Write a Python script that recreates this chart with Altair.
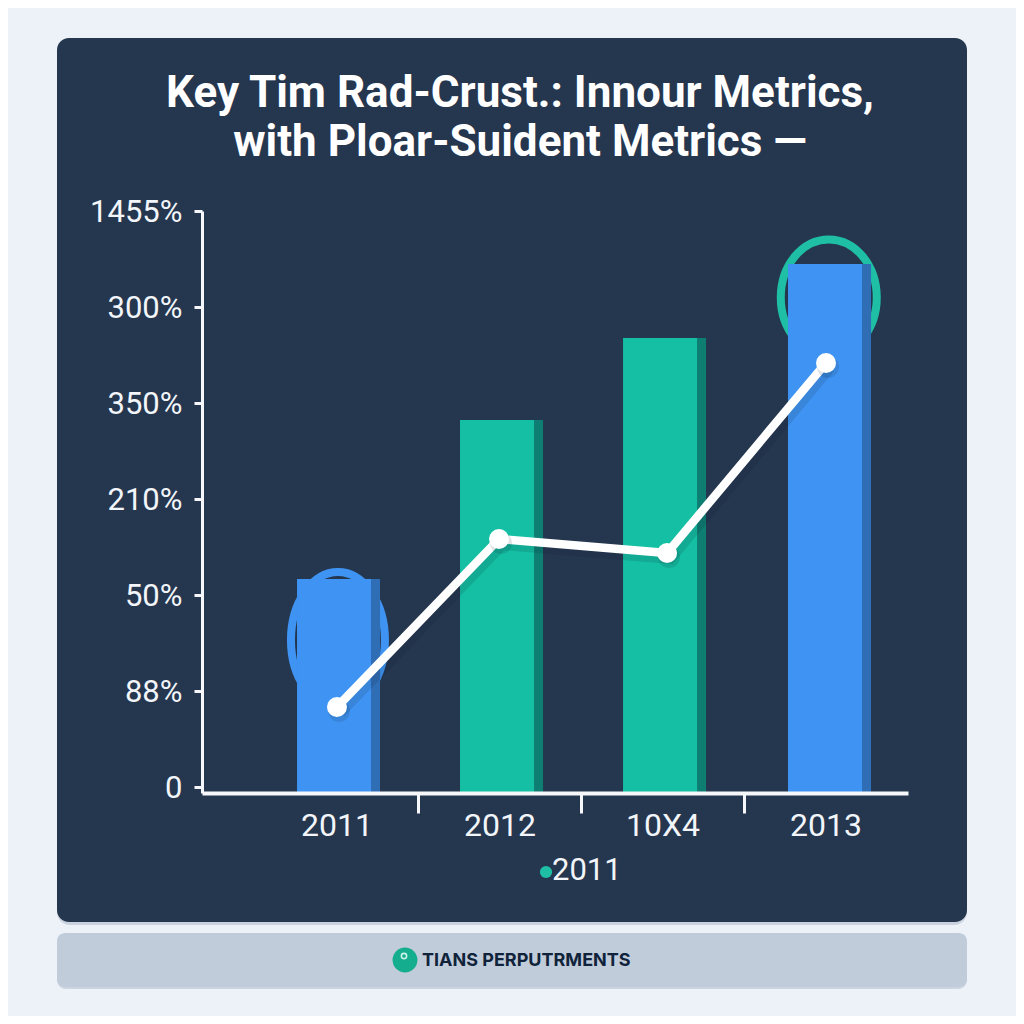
import altair as alt
import pandas as pd

# --- Chart content ---
title_lines = ["Key Tim Rad-Crust.: Innour Metrics,", "with Ploar-Suident Metrics \u2014"]
categories = ["2011", "2012", "10X4", "2013"]
y_tick_labels = ["0", "88%", "50%", "210%", "350%", "300%", "1455%"]
bar_positions = [-0.015, 0.985, 1.985, 2.997]
bar_values = [2.167, 3.823, 4.677, 5.448]
bar_groups = ["blue", "teal", "teal", "blue"]
line_positions = [0.003, 0.997, 2.028, 3.003]
line_values = [0.833, 2.583, 2.4375, 4.417]
highlight_positions = [0.009, 3.02]
highlight_values = [1.53, 5.10]
legend_label = "2011"
footer_label = "TIANS PERPUTRMENTS"

FONT = "Roboto"
W, H = 706, 582
PAD_L, PAD_T = 194, 203
px = lambda v: v - 8 - PAD_L     # page x -> view x
py = lambda v: v - 8 - PAD_T     # page y -> view y

bars = pd.DataFrame({"pos": bar_positions, "value": bar_values, "group": bar_groups})
line = pd.DataFrame({"pos": line_positions, "value": line_values})

x_scale = alt.Scale(domain=[-0.825, 3.506], nice=False, zero=False, padding=0)
y_scale = alt.Scale(domain=[-0.0625, 6], nice=False, zero=False, padding=0)

x_labels_js = "[" + ",".join(f"'{c}'" for c in categories) + "]"
y_labels_js = "[" + ",".join(f"'{c}'" for c in y_tick_labels) + "]"

x_enc = alt.X(
    "pos:Q", scale=x_scale, title=None,
    axis=alt.Axis(
        values=[0, 0.5, 1, 1.5, 2, 2.5, 3], grid=False, zindex=1,
        labelExpr=f"datum.value % 1 === 0 ? {x_labels_js}[datum.value] : ''",
        labelOverlap=False, labelFlush=False, labelBound=False,
        labelFont=FONT, labelFontSize=32, labelColor="#f2f5f9", labelPadding=-3,
        tickSize=20, tickWidth=3, tickColor="#f5f7fa",
        domainColor="#f5f7fa", domainWidth=4,
    ),
)
x_enc_axis = x_enc.to_dict()
x_enc_axis["axis"]["tickOpacity"] = {"condition": {"test": "datum.value % 1 === 0", "value": 0}, "value": 1}

y_enc = alt.Y(
    "value:Q", scale=y_scale, title=None,
    axis=alt.Axis(
        values=list(range(len(y_tick_labels))), grid=False, zindex=1,
        labelExpr=f"{y_labels_js}[datum.value]",
        labelOverlap=False, labelFlush=False, labelBound=False,
        labelFont=FONT, labelFontSize=31, labelColor="#f2f5f9", labelPadding=12,
        labelOffset=1.5,
        tickSize=8, tickWidth=3, tickColor="#f5f7fa",
        domainColor="#f5f7fa", domainWidth=3,
    ),
)


def deco_rect(x0, x1, y0, y1, color, radius, opacity=1.0):
    return alt.Chart(alt.Data(values=[{}])).mark_rect(
        color=color, cornerRadius=radius, opacity=opacity
    ).encode(
        x=alt.value(px(x0)), x2=alt.value(px(x1)),
        y=alt.value(py(y0)), y2=alt.value(py(y1)),
    )


def ellipse(rx, ry):
    return (f"M {-rx} 0 A {rx} {ry} 0 1 1 {rx} 0 A {rx} {ry} 0 1 1 {-rx} 0 Z")


color_main = alt.Color("group:N", legend=None,
                       scale=alt.Scale(domain=["blue", "teal"], range=["#3f94f3", "#15bfa3"]))
color_side = alt.Color("group:N", legend=None,
                       scale=alt.Scale(domain=["blue", "teal"], range=["#2f6db5", "#0e7d72"]))

card_shadow = deco_rect(57, 967, 40, 925, "#8a99ad", 13, 0.35)
card = deco_rect(57, 967, 38, 922, "#25364f", 12)
foot_shadow = deco_rect(57, 967, 936, 989, "#9aa7b8", 9, 0.4)
foot = deco_rect(57, 967, 933, 987, "#c0ccda", 8)

ring_blue = alt.Chart(pd.DataFrame({"pos": highlight_positions[:1], "value": highlight_values[:1]})).mark_point(
    shape=ellipse(0.94, 1.36), size=10000, filled=False, stroke="#3f94f3", strokeWidth=8, opacity=1
).encode(x=alt.X("pos:Q", scale=x_scale), y=alt.Y("value:Q", scale=y_scale))
ring_teal = alt.Chart(pd.DataFrame({"pos": highlight_positions[1:], "value": highlight_values[1:]})).mark_point(
    shape=ellipse(0.96, 1.16), size=10000, filled=False, stroke="#1fbfa5", strokeWidth=8, opacity=1
).encode(x=alt.X("pos:Q", scale=x_scale), y=alt.Y("value:Q", scale=y_scale))

bars_side = alt.Chart(bars).mark_bar(size=83, orient="vertical", xOffset=4.5).encode(
    x=alt.X("pos:Q", scale=x_scale), y=alt.Y("value:Q", scale=y_scale, stack=None),
    y2=alt.value(H), color=color_side,
)
bars_main = alt.Chart(bars).mark_bar(size=74, orient="vertical").encode(
    x=alt.X("pos:Q", scale=x_scale), y=alt.Y("value:Q", scale=y_scale, stack=None),
    y2=alt.value(H), color=color_main,
)

line_shadow = alt.Chart(line).mark_line(
    color="#0b1626", opacity=0.12, strokeWidth=12, xOffset=3, yOffset=5
).encode(x=alt.X("pos:Q", scale=x_scale), y=alt.Y("value:Q", scale=y_scale))
line_main = alt.Chart(line).mark_line(color="#ffffff", strokeWidth=8.5).encode(
    x=alt.X("pos:Q", scale=x_scale), y=alt.Y("value:Q", scale=y_scale))
pts_shadow = alt.Chart(line).mark_point(
    filled=True, color="#0b1626", opacity=0.12, size=480, xOffset=2, yOffset=4
).encode(x=alt.X("pos:Q", scale=x_scale), y=alt.Y("value:Q", scale=y_scale))
pts = alt.Chart(line).mark_point(filled=True, color="#ffffff", size=400, opacity=1).encode(
    x=alt.X("pos:Q", scale=x_scale), y=alt.Y("value:Q", scale=y_scale))

# axis carrier layer
axis_layer = alt.Chart(line).mark_point(opacity=0).encode(x=x_enc_axis, y=y_enc)

one = alt.Data(values=[{}])
legend_dot = alt.Chart(one).mark_point(filled=True, color="#1fbfa5", size=150, opacity=1).encode(
    x=alt.value(px(546)), y=alt.value(py(872)))
legend_text = alt.Chart(pd.DataFrame({"t": [legend_label]})).mark_text(
    font=FONT, fontSize=31, color="#f2f5f9", align="left", baseline="middle"
).encode(x=alt.value(px(552)), y=alt.value(py(871)), text="t:N")

foot_badge = alt.Chart(one).mark_point(filled=True, color="#14ad8e", size=620, opacity=1).encode(
    x=alt.value(px(405)), y=alt.value(py(960)))
foot_dot = alt.Chart(one).mark_point(
    filled=False, stroke="#c9f2e6", strokeWidth=1.6, size=28, opacity=1
).encode(x=alt.value(px(404)), y=alt.value(py(956)))
foot_text = alt.Chart(pd.DataFrame({"t": [footer_label]})).mark_text(
    font="Inter", fontSize=18, fontWeight="bold", color="#10233a", align="left", baseline="middle"
).encode(x=alt.value(px(422)), y=alt.value(py(961)), text="t:N")

chart = alt.layer(
    card_shadow, card, foot_shadow, foot,
    ring_blue, ring_teal, bars_side, bars_main,
    line_shadow, line_main, pts_shadow, pts,
    axis_layer, legend_dot, legend_text, foot_badge, foot_dot, foot_text,
).resolve_scale(color="independent").properties(
    width=W, height=H,
    padding={"left": PAD_L, "top": PAD_T, "right": 1008 - PAD_L - W, "bottom": 1008 - PAD_T - H},
    autosize=alt.AutoSizeParams(type="none"),
    background="#edf2f9",
    title=alt.TitleParams(
        text=title_lines, anchor="middle", dx=-35, offset=-127,
        font=FONT, fontSize=44, fontWeight="bold", color="#ffffff", lineHeight=49,
    ),
).configure_view(stroke=None)

chart.save("out.html", embed_options={"renderer": "svg", "actions": False})
